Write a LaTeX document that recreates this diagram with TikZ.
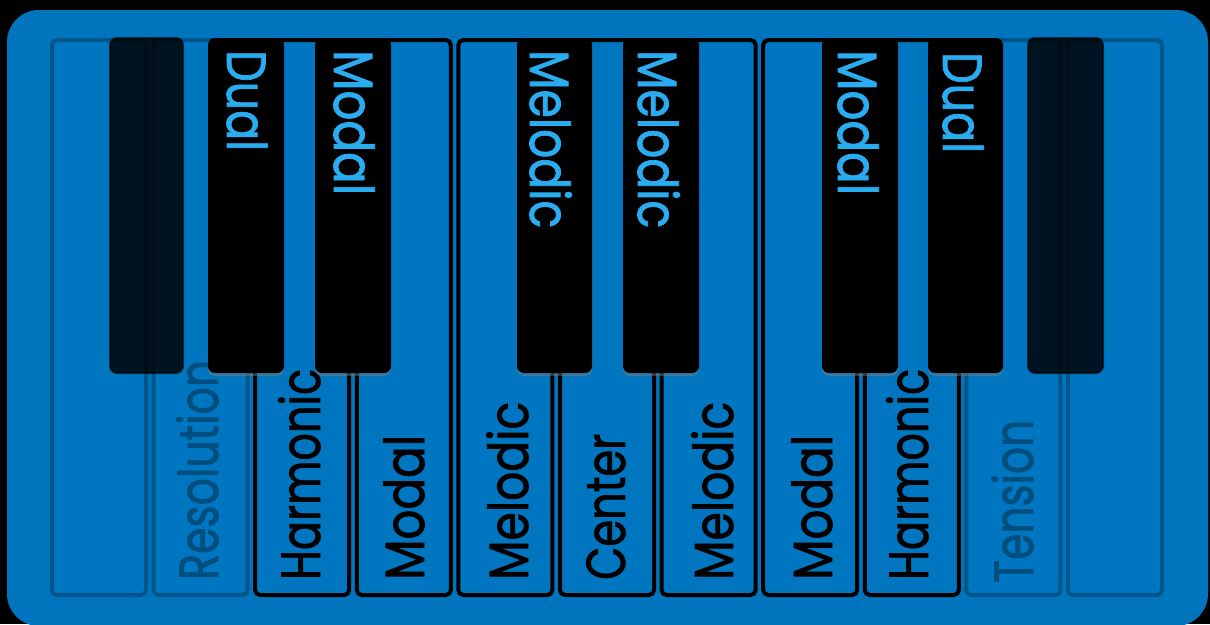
\documentclass[tikz,border=0pt]{standalone}
\usepackage{fontspec}
\usepackage{graphicx}
\setmainfont{Poppins}[UprightFeatures={FakeBold=1.6}]
\usetikzlibrary{shadows}
\definecolor{panelblue}{RGB}{0,116,188}
\definecolor{keyblue}{RGB}{0,118,192}
\definecolor{fadeborder}{RGB}{0,86,138}
\definecolor{fadetext}{RGB}{0,78,126}
\definecolor{labelblue}{RGB}{42,172,240}
\newcommand\fitw[2]{\resizebox{#1}{\height}{#2}}
\tikzset{
  whitekey/.style={fill=keyblue, draw=black, line width=4pt, rounded corners=5pt},
  fadedkey/.style={fill=keyblue, draw=fadeborder, line width=4pt, rounded corners=5pt},
  blackkey/.style={fill=black, rounded corners=7pt, drop shadow={opacity=0.45, shadow xshift=0pt, shadow yshift=-3pt}},
  fadedblack/.style={fill=black, fill opacity=0.83, draw=black, draw opacity=0.6, line width=2pt, rounded corners=7pt},
  labelfont/.style={font=\fontsize{55}{55}\selectfont},
  whitelabel/.style={labelfont, rotate=90, anchor=base west, inner sep=0pt, text=black},
  fadedlabel/.style={whitelabel, text=fadetext},
  blacklabel/.style={labelfont, rotate=-90, anchor=base west, inner sep=0pt, text=labelblue},
}
\begin{document}
\begin{tikzpicture}[x=1pt,y=-1pt]
\useasboundingbox (0,0) rectangle (1210,624);
\fill[black] (0,0) rectangle (1210,624);
\fill[panelblue, rounded corners=32pt] (7,10) rectangle (1208,626);

% white keys
\foreach \i/\sty in {0/fadedkey,1/fadedkey,2/whitekey,3/whitekey,4/whitekey,5/whitekey,6/whitekey,7/whitekey,8/whitekey,9/fadedkey,10/fadedkey}{
  \draw[\sty] ({50+101.6*\i+2},40) rectangle ({50+101.6*\i+96},595);
}

% white key labels
\node[fadedlabel] (lres)  at (218,580)  {\fitw{220pt}{Resolution}};
\node[whitelabel] (lharm1) at (320,580) {\fitw{211pt}{Harmonic}};
\node[whitelabel] (lmod1)  at (424,580) {\fitw{145pt}{Modal}};
\node[whitelabel] (lmel1)  at (528,580) {\fitw{178pt}{Melodic}};
\node[whitelabel] (lcen)   at (625,580) {\fitw{146pt}{Center}};
\node[whitelabel] (lmel2)  at (733,580) {\fitw{178pt}{Melodic}};
\node[whitelabel] (lmod2)  at (832,580) {\fitw{145pt}{Modal}};
\node[whitelabel] (lharm2) at (928,580) {\fitw{211pt}{Harmonic}};
\node[fadedlabel] (lten)   at (1033,583) {\fitw{163pt}{Tension}};

% black keys
\draw[fadedblack] (110,38) rectangle (183,373);
\fill[blackkey] (208,38) rectangle (284,373);
\fill[blackkey] (315,38) rectangle (391,373);
\fill[blackkey] (517,38) rectangle (592,373);
\fill[blackkey] (623,38) rectangle (699,373);
\fill[blackkey] (822,38) rectangle (898,373);
\fill[blackkey] (928,38) rectangle (1003,373);
\draw[fadedblack] (1028,38) rectangle (1103,373);

% black key labels
\node[blacklabel] (bdual1) at (227,50) {\fitw{101pt}{Dual}};
\node[blacklabel] (bmod1)  at (334,50) {\fitw{145pt}{Modal}};
\node[blacklabel] (bmel1)  at (530,50) {\fitw{178pt}{Melodic}};
\node[blacklabel] (bmel2)  at (638,50) {\fitw{178pt}{Melodic}};
\node[blacklabel] (bmod2)  at (838,50) {\fitw{145pt}{Modal}};
\node[blacklabel] (bdual2) at (943,52) {\fitw{101pt}{Dual}};
\end{tikzpicture}
\end{document}
